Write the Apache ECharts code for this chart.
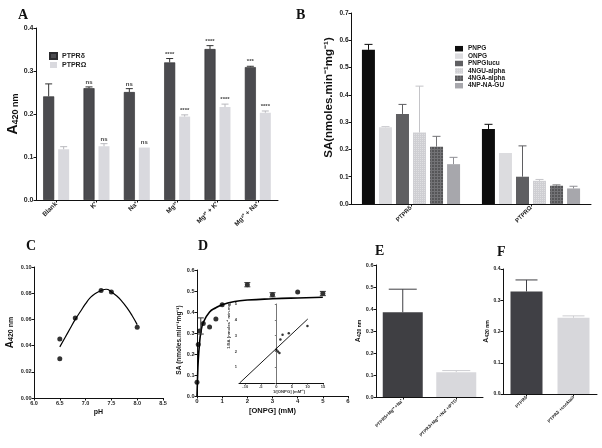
<!DOCTYPE html>
<html><head><meta charset="utf-8">
<script src="https://cdn.jsdelivr.net/npm/echarts@6/dist/echarts.min.js"></script>
<style>html,body{margin:0;padding:0;background:#fff}#c{width:602px;height:448px}</style>
</head><body><div id="c"></div>
<script>
// ---------- DATA ----------
// Panel A
const catsA = ['Blank', 'K⁺', 'Na⁺', 'Mg²⁺', 'Mg²⁺ + K⁺', 'Mg²⁺ + Na⁺'];
const aDelta = [0.241, 0.260, 0.251, 0.320, 0.351, 0.309];
const aDeltaErr = [0.270, 0.263, 0.259, 0.329, 0.359, 0.311];
const aOmega = [0.118, 0.125, 0.122, 0.194, 0.216, 0.203];
const aOmegaErr = [0.124, 0.131, 0.123, 0.198, 0.223, 0.207];
const aDeltaSig = ['', 'ns', 'ns', '****', '****', '***'];
const aOmegaSig = ['', 'ns', 'ns', '****', '****', '****'];
const aYRange = [0, 0.4, 0.1];
// Panel B
const catsB = ['PTPRδ', 'PTPRΩ'];
const substratesB = ['PNPG', 'ONPG', 'PNPGlucu', '4NGU-alpha', '4NGA-alpha', '4NP-NA-GU'];
const bPNPG = [0.565, 0.275], bPNPGErr = [0.585, 0.292];
const bONPG = [0.281, 0.187], bONPGErr = [0.284, 0.187];
const bPNPGlucu = [0.330, 0.100], bPNPGlucuErr = [0.365, 0.213];
const b4NGU = [0.262, 0.085], b4NGUErr = [0.432, 0.090];
const b4NGA = [0.210, 0.067], b4NGAErr = [0.248, 0.070];
const b4NPNA = [0.146, 0.057], b4NPNAErr = [0.171, 0.065];
const bYRange = [0, 0.7, 0.1];
// Panel C
const cPoints = [[6.5, 0.045], [6.5, 0.030], [6.8, 0.061], [7.3, 0.082], [7.5, 0.081], [8.0, 0.054]];
const cFit = [[6.5, 0.039], [6.6, 0.046], [6.7, 0.053], [6.8, 0.060], [6.9, 0.066], [7.0, 0.072], [7.1, 0.077], [7.2, 0.080], [7.3, 0.082], [7.4, 0.083], [7.5, 0.081], [7.6, 0.078], [7.7, 0.074], [7.8, 0.069], [7.9, 0.063], [8.0, 0.056]];
const cXRange = [6.0, 8.5, 0.5], cYRange = [0, 0.10, 0.02];
// Panel D
const dPoints = [[0, 0.065], [0.05, 0.245], [0.1, 0.31], [0.25, 0.345], [0.5, 0.328], [0.75, 0.367], [1, 0.435], [2, 0.53], [3, 0.482], [4, 0.495], [5, 0.488]];
const dErr = [[0.15, 0.295, 0.372], [2, 0.52, 0.54], [3, 0.472, 0.492], [5, 0.478, 0.498]]; // x, low, high
const dFit = [[0, 0.0], [0.02, 0.08], [0.05, 0.17], [0.1, 0.25], [0.15, 0.30], [0.25, 0.35], [0.5, 0.40], [0.75, 0.42], [1, 0.435], [1.5, 0.45], [2, 0.457], [3, 0.463], [4, 0.467], [5, 0.47]];
const dXRange = [0, 6, 1], dYRange = [0, 0.6, 0.1];
const insetPoints = [[0, 2.1], [0.5, 2.0], [1, 1.9], [1.3, 2.75], [2, 3.05], [4, 3.15], [10, 3.6]];
const insetFit = [[-11.8, 0], [10.1, 4.05]];
const insetXRange = [-12, 15], insetXTicks = [-10, -5, 0, 5, 10, 15];
const insetYRange = [0, 5, 1];
// Panel E
const catsE = ['PTPRδ+Mg²⁺+Na⁺', 'PTPRδ+Mg²⁺+Na⁺+IPTG'];
const eValues = [0.385, 0.113], eErr = [0.49, 0.12];
const eYRange = [0, 0.6, 0.1];
// Panel F
const catsF = ['PTPRδ', 'PTPRδ +cocktail'];
const fValues = [0.328, 0.244], fErr = [0.365, 0.25];
const fYRange = [0, 0.4, 0.1];

// ---------- STYLE / HELPERS ----------
const FONT = '"Liberation Sans", Arial, sans-serif';
const SERIF = '"Liberation Serif", "Times New Roman", serif';
const AX = '#111';

function vAxis(gi, rng, dec, fs, extra) {
  const a = {
    gridIndex: gi, type: 'value', min: rng[0], max: rng[1], interval: rng[2],
    axisLine: {show: true, onZero: false, lineStyle: {color: AX, width: 1}},
    axisTick: {show: true, length: 2.5, lineStyle: {color: AX, width: 1}},
    splitLine: {show: false},
    axisLabel: {fontSize: fs, fontWeight: 'bold', color: '#222', margin: 2.5, fontFamily: FONT,
      formatter: v => v.toFixed(dec)}
  };
  return Object.assign(a, extra || {});
}
function cAxis(gi, cats, fs, extra) {
  const a = {
    gridIndex: gi, type: 'category', data: cats,
    axisLine: {show: true, onZero: false, lineStyle: {color: AX, width: 1}},
    axisTick: {show: true, alignWithLabel: true, length: 2.5, lineStyle: {color: AX}},
    axisLabel: {rotate: 45, interval: 0, fontSize: fs, fontWeight: 'bold', color: '#222', margin: 3, fontFamily: FONT}
  };
  return Object.assign(a, extra || {});
}
function aName(big, small, gap) {
  return {
    name: '{a|A}{b|420 nm}', nameLocation: 'middle', nameGap: gap,
    nameTextStyle: {rich: {
      a: {fontSize: big, fontWeight: 'bold', fontFamily: FONT, color: '#111'},
      b: {fontSize: small, fontWeight: 'bold', fontFamily: FONT, color: '#111', verticalAlign: 'bottom'}
    }}
  };
}
function errSeries(ai, vals, errs, offset, color, capHalf, sig) {
  return {
    type: 'custom', xAxisIndex: ai, yAxisIndex: ai, z: 5, silent: true,
    data: vals.map((v, i) => [i, v, errs[i]]),
    renderItem(params, api) {
      const c = api.value(0);
      const p = api.coord([c, api.value(1)]);
      const e = api.coord([c, api.value(2)]);
      const x = p[0] + offset;
      const ch = [];
      if (p[1] - e[1] > 0.5) {
        ch.push({type: 'line', shape: {x1: x, y1: p[1], x2: x, y2: e[1]}, style: {stroke: color, lineWidth: 1}});
        ch.push({type: 'line', shape: {x1: x - capHalf, y1: e[1], x2: x + capHalf, y2: e[1]}, style: {stroke: color, lineWidth: 1}});
      }
      const s = sig ? sig[params.dataIndex] : '';
      if (s) ch.push({type: 'text', style: {text: s, x: x, y: e[1] - 1.5, align: 'center', verticalAlign: 'bottom',
        fontSize: 6, fontWeight: 'bold', fontFamily: FONT, fill: '#444'}});
      return {type: 'group', children: ch};
    }
  };
}

// ---------- CHART ----------
const grids = [
  {left: 36, top: 28, width: 242, height: 172},   // A
  {left: 351, top: 13, width: 240, height: 191},  // B
  {left: 34, top: 267, width: 129, height: 131},  // C
  {left: 197, top: 270, width: 151, height: 126}, // D
  {left: 239, top: 304, width: 84, height: 79},   // D inset
  {left: 376, top: 265, width: 107, height: 132}, // E
  {left: 503, top: 269, width: 94, height: 125}   // F
];

const xAxes = [
  cAxis(0, catsA, 6.5),
  cAxis(1, catsB, 6),
  vAxis(2, cXRange, 1, 5.5, {name: 'pH', nameLocation: 'middle', nameGap: 11,
    nameTextStyle: {fontSize: 7, fontWeight: 'bold', fontFamily: FONT, color: '#111'}}),
  vAxis(3, dXRange, 0, 6, {name: '[ONPG] (mM)', nameLocation: 'middle', nameGap: 11,
    nameTextStyle: {fontSize: 7.5, fontWeight: 'bold', fontFamily: FONT, color: '#111'}}),
  {gridIndex: 4, type: 'value', min: insetXRange[0], max: insetXRange[1],
    axisLine: {show: true, onZero: true, lineStyle: {color: AX, width: 1}},
    axisTick: {show: true, length: 1.5, customValues: insetXTicks, lineStyle: {color: AX}},
    axisLabel: {fontSize: 4, fontWeight: 'bold', color: '#333', margin: 2, fontFamily: FONT, customValues: insetXTicks},
    splitLine: {show: false},
    name: '1/[ONPG] (mM⁻¹)', nameLocation: 'middle', nameGap: 6,
    nameTextStyle: {fontSize: 4.2, fontWeight: 'bold', fontFamily: FONT, color: '#333', padding: [0, 0, 0, 16]}},
  cAxis(5, catsE, 4.5),
  cAxis(6, catsF, 4.5)
];

const yAxes = [
  vAxis(0, aYRange, 1, 7, aName(14, 9, 15)),
  vAxis(1, bYRange, 1, 6.5, {name: 'SA(nmoles.min⁻¹mg⁻¹)', nameLocation: 'middle', nameGap: 16,
    nameTextStyle: {fontSize: 11.5, fontWeight: 'bold', fontFamily: FONT, color: '#111', padding: [0, 0, 0, 22]}}),
  vAxis(2, cYRange, 2, 5.5, aName(10, 7, 19)),
  vAxis(3, dYRange, 1, 5.5, {name: 'SA (nmoles.min⁻¹mg⁻¹)', nameLocation: 'middle', nameGap: 6,
    nameTextStyle: {fontSize: 6.5, fontWeight: 'bold', fontFamily: FONT, color: '#111', padding: [0, 14, 0, 0]}}),
  {gridIndex: 4, type: 'value', min: insetYRange[0], max: insetYRange[1], interval: insetYRange[2],
    axisLine: {show: true, onZero: true, lineStyle: {color: '#777', width: 1}},
    axisTick: {show: true, length: 1.5, lineStyle: {color: '#777'}},
    axisLabel: {fontSize: 4, fontWeight: 'bold', color: '#333', margin: 2, fontFamily: FONT,
      formatter: v => v === 0 ? '' : String(v)},
    splitLine: {show: false},
    name: '1/SA (nmoles⁻¹ min.mg)', nameLocation: 'middle', nameGap: 5,
    nameTextStyle: {fontSize: 4.2, fontWeight: 'bold', fontFamily: FONT, color: '#333', padding: [0, 0, 0, 36]}},
  vAxis(5, eYRange, 1, 5.5, aName(7, 5, 11)),
  vAxis(6, fYRange, 1, 5, aName(7, 5, 11))
];

const bColors = ['#0d0d0d', '#dcdcdf', '#5f5f62', '#cfcfd3', '#737376', '#a7a7ac'];
const bDecals = [null, null, null,
  {symbol: 'rect', symbolSize: 1, dashArrayX: [1, 1], dashArrayY: [1, 1], color: 'rgba(255,255,255,0.35)'},
  {symbol: 'rect', symbolSize: 1, dashArrayX: [2, 1], dashArrayY: [2, 1], color: 'rgba(0,0,0,0.25)'},
  null];
const bVals = [bPNPG, bONPG, bPNPGlucu, b4NGU, b4NGA, b4NPNA];
const bErrs = [bPNPGErr, bONPGErr, bPNPGlucuErr, b4NGUErr, b4NGAErr, b4NPNAErr];
const bErrColors = ['#0d0d0d', '#cfcfd3', '#5f5f62', '#c4c4c8', '#737376', '#8f8f94'];

const series = [
  {type: 'bar', name: 'PTPRδ', xAxisIndex: 0, yAxisIndex: 0, data: aDelta, barWidth: 11, barGap: '36%',
    itemStyle: {color: '#4b4b4f', borderColor: '#2b2b2e', borderWidth: 0.6}},
  {type: 'bar', name: 'PTPRΩ', xAxisIndex: 0, yAxisIndex: 0, data: aOmega, barWidth: 11, barGap: '36%',
    itemStyle: {color: '#d9d9de'}},
  errSeries(0, aDelta, aDeltaErr, -7.5, '#333', 3.5, aDeltaSig),
  errSeries(0, aOmega, aOmegaErr, 7.5, '#b8b8bd', 3.5, aOmegaSig)
];
substratesB.forEach((s, i) => {
  const it = {color: bColors[i]};
  if (bDecals[i]) it.decal = bDecals[i];
  series.push({type: 'bar', name: s, xAxisIndex: 1, yAxisIndex: 1, data: bVals[i], barWidth: 13, barGap: '31%', itemStyle: it});
});
substratesB.forEach((s, i) => {
  series.push(errSeries(1, bVals[i], bErrs[i], (i - 2.5) * 17, bErrColors[i], 4, null));
});
series.push(
  {type: 'line', xAxisIndex: 2, yAxisIndex: 2, data: cFit, smooth: true, showSymbol: false, symbol: 'none',
    lineStyle: {color: '#000', width: 1.2}, z: 3},
  {type: 'scatter', xAxisIndex: 2, yAxisIndex: 2, data: cPoints, symbolSize: 5, itemStyle: {color: '#000'}, z: 4},
  {type: 'line', xAxisIndex: 3, yAxisIndex: 3, data: dFit, smooth: true, showSymbol: false, symbol: 'none',
    lineStyle: {color: '#000', width: 1.6}, z: 3},
  {type: 'scatter', xAxisIndex: 3, yAxisIndex: 3, data: dPoints, symbolSize: 5, itemStyle: {color: '#000'}, z: 4},
  {type: 'custom', xAxisIndex: 3, yAxisIndex: 3, data: dErr, z: 5, silent: true,
    renderItem(params, api) {
      const lo = api.coord([api.value(0), api.value(1)]);
      const hi = api.coord([api.value(0), api.value(2)]);
      const x = lo[0], w = 3;
      const st = {stroke: '#333', lineWidth: 1};
      return {type: 'group', children: [
        {type: 'line', shape: {x1: x, y1: lo[1], x2: x, y2: hi[1]}, style: st},
        {type: 'line', shape: {x1: x - w, y1: lo[1], x2: x + w, y2: lo[1]}, style: st},
        {type: 'line', shape: {x1: x - w, y1: hi[1], x2: x + w, y2: hi[1]}, style: st}
      ]};
    }},
  {type: 'line', xAxisIndex: 4, yAxisIndex: 4, data: insetFit, showSymbol: false, symbol: 'none',
    lineStyle: {color: '#000', width: 0.9}, z: 3},
  {type: 'scatter', xAxisIndex: 4, yAxisIndex: 4, data: insetPoints, symbolSize: 2.5, itemStyle: {color: '#000'}, z: 4},
  {type: 'bar', xAxisIndex: 5, yAxisIndex: 5, barWidth: 40,
    data: eValues.map((v, i) => ({value: v, itemStyle: {color: i === 0 ? '#3f3f43' : '#d8d8dc'}}))},
  errSeries(5, eValues.slice(0, 1), eErr.slice(0, 1), 0, '#3f3f43', 14, null),
  errSeries(5, eValues, eErr.map((e, i) => i === 0 ? eValues[0] : e), 0, '#cdcdd1', 14, null),
  {type: 'bar', xAxisIndex: 6, yAxisIndex: 6, barWidth: 32,
    data: fValues.map((v, i) => ({value: v, itemStyle: {color: i === 0 ? '#404045' : '#d7d7db'}}))},
  errSeries(6, fValues.slice(0, 1), fErr.slice(0, 1), 0, '#404045', 11, null),
  errSeries(6, fValues, fErr.map((e, i) => i === 0 ? fValues[0] : e), 0, '#cdcdd1', 11, null)
);

const panelTitle = (t, l, tp) => ({text: t, left: l, top: tp,
  textStyle: {fontFamily: SERIF, fontSize: 14, fontWeight: 'bold', color: '#111'}});

const option = {
  animation: false,
  backgroundColor: '#fff',
  title: [panelTitle('A', 13, 3), panelTitle('B', 291, 3), panelTitle('C', 21, 234),
    panelTitle('D', 193, 234), panelTitle('E', 370, 239), panelTitle('F', 492, 240)],
  legend: [
    {data: ['PTPRδ', 'PTPRΩ'], orient: 'vertical', left: 44, top: 46.5, itemWidth: 7, itemHeight: 6, itemGap: 0,
      icon: 'rect', textStyle: {fontSize: 7, fontWeight: 'bold', fontFamily: FONT, color: '#222', lineHeight: 9}},
    {data: substratesB, orient: 'vertical', left: 450, top: 40, itemWidth: 8, itemHeight: 5.5, itemGap: 0,
      icon: 'rect', textStyle: {fontSize: 6.5, fontWeight: 'bold', fontFamily: FONT, color: '#222', lineHeight: 7.4}}
  ],
  grid: grids,
  xAxis: xAxes,
  yAxis: yAxes,
  series: series
};

const chart = echarts.init(document.getElementById('c'), null, {renderer: 'canvas'});
chart.setOption(option);
</script>
</body></html>
